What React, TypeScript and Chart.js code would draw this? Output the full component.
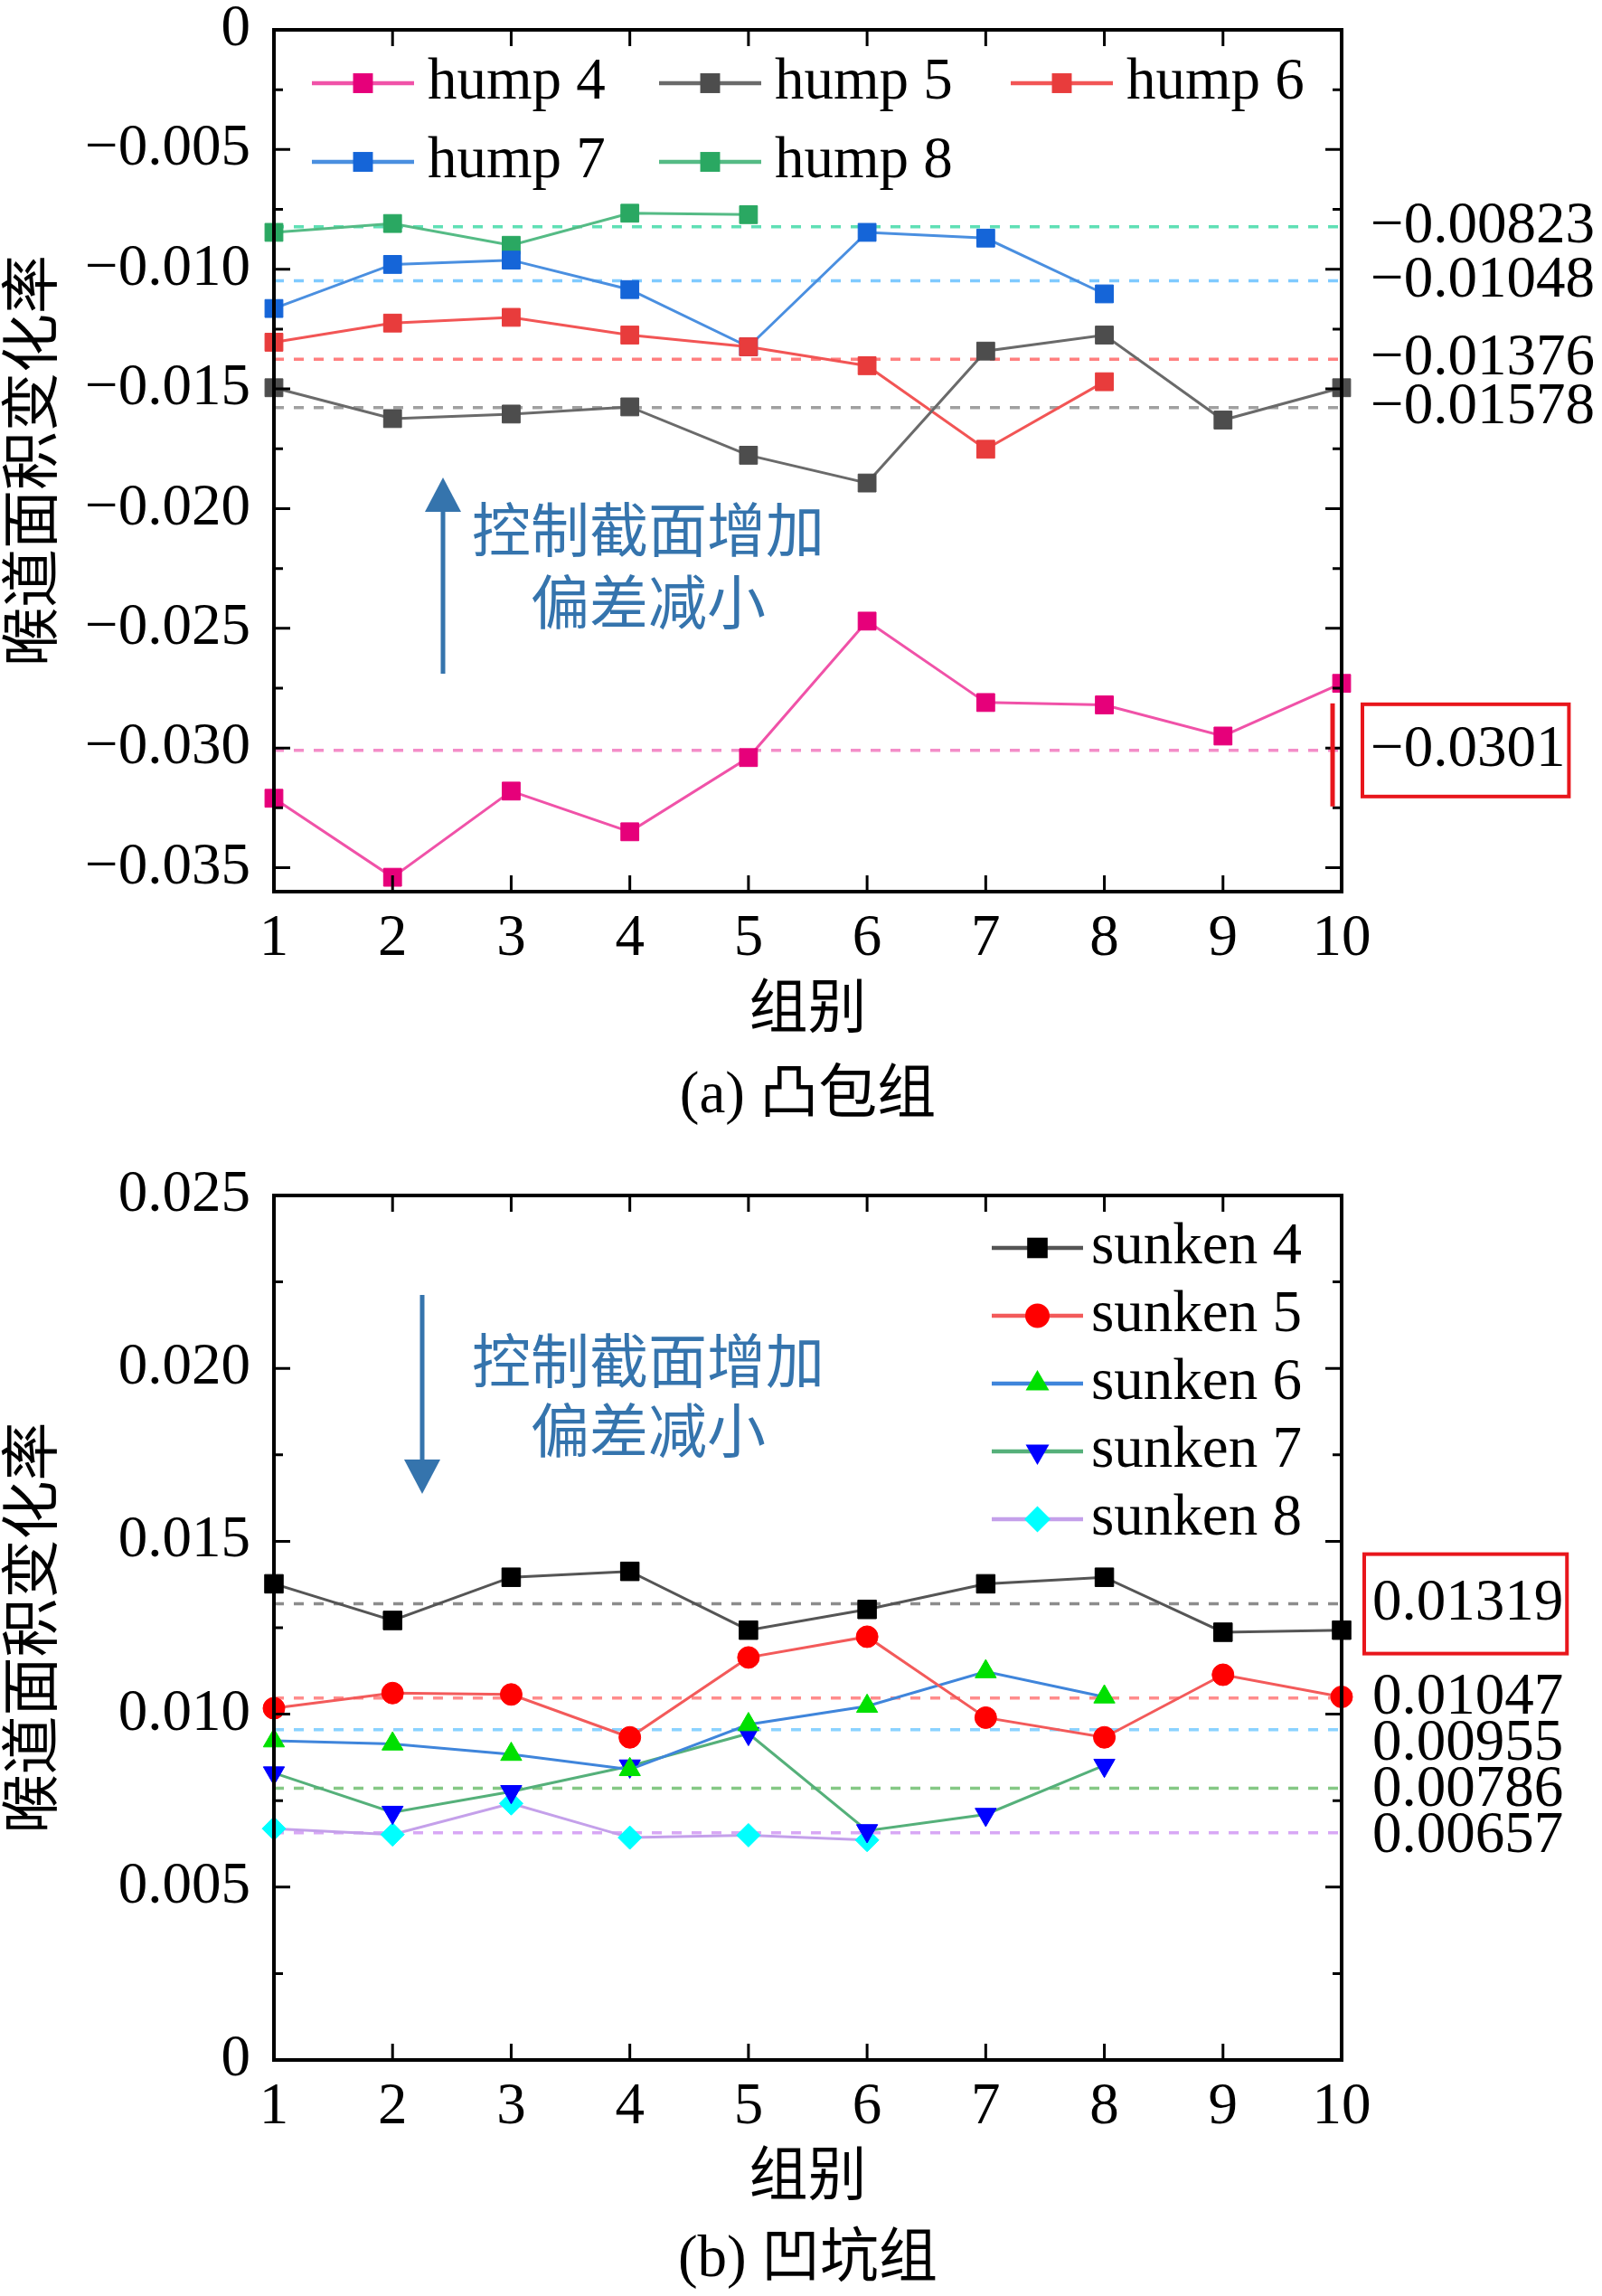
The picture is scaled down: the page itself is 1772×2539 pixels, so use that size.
import React, { useEffect, useRef } from 'react';
import { Chart, registerables } from 'chart.js';

Chart.register(...registerables);

// ---------- data ----------
const groups = ['1', '2', '3', '4', '5', '6', '7', '8', '9', '10'];

const hump4 = [-0.0321, -0.0354, -0.0318, -0.0335, -0.0304, -0.0247, -0.0281, -0.0282, -0.0295, -0.0273];
const hump5 = [-0.01495, -0.01624, -0.01605, -0.01575, -0.01777, -0.01893, -0.01342, -0.01275, -0.0163, -0.01495];
const hump6 = [-0.01305, -0.01225, -0.01201, -0.01275, -0.01324, -0.01403, -0.01752, -0.0147];
const hump7 = [-0.01164, -0.0098, -0.00962, -0.01085, -0.01324, -0.00846, -0.0087, -0.01103];
const hump8 = [-0.00846, -0.00809, -0.009, -0.00766, -0.00772];
const humpNames = ['hump 4', 'hump 5', 'hump 6', 'hump 7', 'hump 8'];
const humpMeans = [-0.0301, -0.01578, -0.01376, -0.01048, -0.00823];
const humpBoxed = -0.0301;

const sunken4 = [0.01377, 0.01271, 0.01396, 0.01413, 0.01243, 0.01303, 0.01377, 0.01396, 0.01237, 0.01243];
const sunken5 = [0.01017, 0.01061, 0.01057, 0.00933, 0.01164, 0.01224, 0.0099, 0.00933, 0.01114, 0.0105];
const sunken6 = [0.00923, 0.00914, 0.00884, 0.0084, 0.0097, 0.01023, 0.01123, 0.0105];
const sunken7 = [0.0083, 0.00716, 0.00776, 0.0085, 0.00944, 0.00663, 0.0071, 0.00852];
const sunken8 = [0.00669, 0.00652, 0.00742, 0.00643, 0.0065, 0.00636];
const sunkenNames = ['sunken 4', 'sunken 5', 'sunken 6', 'sunken 7', 'sunken 8'];
const sunkenMeans = [0.01319, 0.01047, 0.00955, 0.00786, 0.00657];
const sunkenBoxed = 0.01319;

const yTitle = '喉道面积变化率';
const xTitle = '组别';
const noteLines = ['控制截面增加', '偏差减小'];
const captionA = '(a) 凸包组';
const captionB = '(b) 凹坑组';

// ---------- styles ----------
const FAMILY = '"Liberation Serif", "Times New Roman", "Noto Sans CJK SC", serif';
const FS = 65;
const fontObj = { family: FAMILY, size: FS, lineHeight: 1 };
const FONT = `${FS}px ${FAMILY}`;
const NOTE_COLOR = '#3574ad';
const RED = '#e8161c';

const humpStyle = [
  { line: '#f052a8', marker: '#e6007a', mean: '#f38dc8', shape: 'rect', r: 14 },
  { line: '#6a6a6a', marker: '#4d4d4d', mean: '#a0a0a0', shape: 'rect', r: 14 },
  { line: '#f25555', marker: '#e83c3c', mean: '#ff7f7f', shape: 'rect', r: 14 },
  { line: '#4a8fe0', marker: '#1565d8', mean: '#7fcaff', shape: 'rect', r: 14 },
  { line: '#55bb85', marker: '#2aa862', mean: '#5fe0b5', shape: 'rect', r: 14 },
];
const sunkenStyle = [
  { line: '#555555', marker: '#000000', mean: '#8c8c8c', shape: 'rect', r: 14.5 },
  { line: '#f35a5a', marker: '#ff0000', mean: '#ff8c8c', shape: 'circle', r: 12 },
  { line: '#3f85db', marker: '#00e000', mean: '#8ad2ff', shape: 'triangle', r: 13.5 },
  { line: '#55b07a', marker: '#0000ff', mean: '#85c885', shape: 'triangleDown', r: 13.5 },
  { line: '#c4a0ea', marker: '#00ffff', mean: '#d8a8f5', shape: 'rectRot', r: 13 },
];

function drawMarker(ctx: CanvasRenderingContext2D, shape: string, x: number, y: number, r: number, color: string) {
  ctx.fillStyle = color;
  ctx.beginPath();
  if (shape === 'rect') {
    const s = r * Math.SQRT1_2;
    ctx.rect(x - s, y - s, 2 * s, 2 * s);
  } else if (shape === 'circle') {
    ctx.arc(x, y, r, 0, Math.PI * 2);
  } else if (shape === 'triangle' || shape === 'triangleDown') {
    const base = shape === 'triangle' ? -Math.PI / 2 : Math.PI / 2;
    for (let k = 0; k < 3; k++) {
      const a = base + (k * 2 * Math.PI) / 3;
      const px = x + Math.cos(a) * r;
      const py = y + Math.sin(a) * r;
      if (k === 0) ctx.moveTo(px, py);
      else ctx.lineTo(px, py);
    }
    ctx.closePath();
  } else if (shape === 'rectRot') {
    ctx.moveTo(x, y - r);
    ctx.lineTo(x + r, y);
    ctx.lineTo(x, y + r);
    ctx.lineTo(x - r, y);
    ctx.closePath();
  }
  ctx.fill();
}

function fmtTick(v: number) {
  if (Math.abs(v) < 1e-12) return '0';
  return v.toFixed(3).replace('-', '\u2212');
}

const annotPlugin = {
  id: 'annot',
  afterDatasetsDraw(chart: any, _args: any, o: any) {
    const { ctx, chartArea } = chart;
    const xs = chart.scales.x;
    const ys = chart.scales.y;
    const { left, right, top, bottom } = chartArea;
    ctx.save();
    // inward ticks
    ctx.strokeStyle = '#000';
    ctx.lineWidth = 3;
    ctx.beginPath();
    for (let i = 1; i < xs.ticks.length - 1; i++) {
      const px = xs.getPixelForTick(i);
      ctx.moveTo(px, bottom);
      ctx.lineTo(px, bottom - 18);
      ctx.moveTo(px, top);
      ctx.lineTo(px, top + 18);
    }
    const step = o.minorStep;
    const k0 = Math.ceil(ys.min / step - 1e-6);
    const k1 = Math.floor(ys.max / step + 1e-6);
    for (let k = k0; k <= k1; k++) {
      const py = ys.getPixelForValue(k * step);
      const len = k % 2 === 0 ? 18 : 10;
      ctx.moveTo(left, py);
      ctx.lineTo(left + len, py);
      ctx.moveTo(right, py);
      ctx.lineTo(right - len, py);
    }
    ctx.stroke();
    ctx.lineWidth = 4;
    ctx.strokeRect(left, top, right - left, bottom - top);

    // value labels on the right
    ctx.font = FONT;
    ctx.textBaseline = 'middle';
    ctx.textAlign = 'left';
    ctx.fillStyle = '#000';
    const items = o.values
      .map((v: number) => ({ v, py: ys.getPixelForValue(v) }))
      .sort((a: any, b: any) => a.py - b.py);
    for (let i = 1; i < items.length; i++) {
      items[i].py = Math.max(items[i].py, items[i - 1].py + 51);
    }
    items.forEach((it: any) => {
      const txt = String(it.v).replace('-', '\u2212');
      ctx.fillStyle = '#000';
      ctx.fillText(txt, o.labelX, it.py);
      if (it.v === o.boxed) {
        const w = ctx.measureText(txt).width;
        ctx.strokeStyle = RED;
        ctx.lineWidth = 4;
        ctx.strokeRect(o.labelX - 9, it.py - o.boxHalf, w + 13, o.boxHalf * 2);
        if (o.redBar) {
          ctx.lineWidth = 5;
          ctx.beginPath();
          ctx.moveTo(right - 10, it.py - 52);
          ctx.lineTo(right - 10, it.py + 62);
          ctx.stroke();
        }
      }
    });

    // legend
    const lg = o.legend;
    lg.items.forEach((item: any) => {
      const ds = chart.data.datasets[item.i];
      const st = ds._style;
      ctx.strokeStyle = ds.borderColor;
      ctx.lineWidth = 4.5;
      ctx.beginPath();
      ctx.moveTo(item.x, item.y);
      ctx.lineTo(item.x + lg.lineLen, item.y);
      ctx.stroke();
      drawMarker(ctx, st.shape, item.x + lg.lineLen / 2, item.y, st.r + 1.5, st.marker);
      ctx.fillStyle = '#000';
      ctx.font = FONT;
      ctx.textAlign = 'left';
      ctx.textBaseline = 'middle';
      ctx.fillText(ds.label, item.x + lg.textOff, item.y);
    });

    // arrow + note
    const a = o.arrow;
    ctx.strokeStyle = NOTE_COLOR;
    ctx.fillStyle = NOTE_COLOR;
    ctx.lineWidth = 5;
    const dir = a.tip < a.tail ? 1 : -1;
    const baseY = a.tip + dir * 38;
    ctx.beginPath();
    ctx.moveTo(a.x, a.tail);
    ctx.lineTo(a.x, baseY);
    ctx.stroke();
    ctx.beginPath();
    ctx.moveTo(a.x, a.tip);
    ctx.lineTo(a.x - 20, baseY);
    ctx.lineTo(a.x + 20, baseY);
    ctx.closePath();
    ctx.fill();
    ctx.font = FONT;
    ctx.textAlign = 'center';
    ctx.textBaseline = 'middle';
    o.notes.forEach((n: any) => ctx.fillText(n.text, n.x, n.y));
    ctx.restore();
  },
};

function buildDatasets(series: number[][], names: string[], means: number[], styles: any[]) {
  const lines = series.map((d, i) => {
    const st = styles[i];
    return {
      label: names[i],
      data: d,
      _style: st,
      borderColor: st.line,
      borderWidth: 3,
      pointStyle: st.shape === 'triangleDown' ? 'triangle' : st.shape,
      pointRotation: st.shape === 'triangleDown' ? 180 : 0,
      pointRadius: st.r,
      pointBackgroundColor: st.marker,
      pointBorderColor: st.marker,
      pointBorderWidth: 1,
      tension: 0,
      fill: false,
    };
  });
  const meanLines = means.map((m, i) => ({
    label: 'mean ' + names[i],
    data: groups.map(() => m),
    borderColor: styles[i].mean,
    borderWidth: 3.5,
    borderDash: [11, 11],
    pointRadius: 0,
    fill: false,
  }));
  return [...lines, ...meanLines];
}

function buildConfig(p: any) {
  return {
    type: 'line',
    data: { labels: groups, datasets: p.datasets },
    plugins: [annotPlugin],
    options: {
      animation: false,
      responsive: false,
      devicePixelRatio: 1,
      events: [],
      layout: { padding: { left: 0, top: p.top, right: 288, bottom: 0 } },
      plugins: {
        legend: { display: false },
        tooltip: { enabled: false },
        annot: p.annot,
      },
      scales: {
        x: {
          type: 'category',
          offset: false,
          grid: { display: false, drawTicks: false },
          border: { display: false },
          ticks: { font: fontObj, color: '#000', padding: 20, maxRotation: 0, autoSkip: false },
          title: { display: true, text: xTitle, font: fontObj, color: '#000', padding: { top: 0, bottom: p.xTitlePad } },
          afterFit: (s: any) => {
            s.height = p.xHeight;
          },
        },
        y: {
          type: 'linear',
          min: p.min,
          max: p.max,
          grid: { display: false, drawTicks: false },
          border: { display: false },
          ticks: { stepSize: 0.005, includeBounds: false, font: fontObj, color: '#000', padding: 26, callback: (v: any) => fmtTick(Number(v)) },
          title: { display: true, text: yTitle, font: fontObj, color: '#000', padding: { top: 7, bottom: 0 } },
          afterFit: (s: any) => {
            s.width = 303;
            s.paddingTop = 20;
            s.paddingBottom = 20;
          },
        },
      },
    },
  };
}

function ChartCanvas({ top, height, config }: { top: number; height: number; config: () => any }) {
  const ref = useRef<HTMLCanvasElement | null>(null);
  useEffect(() => {
    if (!ref.current) return;
    const chart = new Chart(ref.current, config());
    return () => chart.destroy();
  }, []);
  return (
    <canvas
      ref={ref}
      width={1772}
      height={height}
      style={{ position: 'absolute', left: 0, top, width: 1772, height }}
    />
  );
}

const topConfig = () =>
  buildConfig({
    datasets: buildDatasets([hump4, hump5, hump6, hump7, hump8], humpNames, humpMeans, humpStyle),
    top: 33,
    min: -0.036,
    max: 0,
    xHeight: 174,
    xTitlePad: 9,
    annot: {
      minorStep: 0.0025,
      values: humpMeans,
      boxed: humpBoxed,
      labelX: 1516,
      boxHalf: 51,
      redBar: true,
      legend: {
        lineLen: 113,
        textOff: 128,
        items: [
          { i: 0, x: 345, y: 92 },
          { i: 1, x: 729, y: 92 },
          { i: 2, x: 1118, y: 92 },
          { i: 3, x: 345, y: 179 },
          { i: 4, x: 729, y: 179 },
        ],
      },
      arrow: { x: 490, tail: 745, tip: 528 },
      notes: [
        { text: noteLines[0], x: 717, y: 593 },
        { text: noteLines[1], x: 717, y: 673 },
      ],
    },
  });

const bottomConfig = () =>
  buildConfig({
    datasets: buildDatasets([sunken4, sunken5, sunken6, sunken7, sunken8], sunkenNames, sunkenMeans, sunkenStyle),
    top: 72,
    min: 0,
    max: 0.025,
    xHeight: 182,
    xTitlePad: 18,
    annot: {
      minorStep: 0.0025,
      values: sunkenMeans,
      boxed: sunkenBoxed,
      labelX: 1518,
      boxHalf: 55,
      redBar: false,
      legend: {
        lineLen: 101,
        textOff: 110,
        items: [
          { i: 0, x: 1097, y: 130 },
          { i: 1, x: 1097, y: 205 },
          { i: 2, x: 1097, y: 280 },
          { i: 3, x: 1097, y: 355 },
          { i: 4, x: 1097, y: 430 },
        ],
      },
      arrow: { x: 467, tail: 182, tip: 402 },
      notes: [
        { text: noteLines[0], x: 717, y: 262 },
        { text: noteLines[1], x: 717, y: 339 },
      ],
    },
  });

const captionStyle = (top: number): React.CSSProperties => ({
  position: 'absolute',
  left: 303,
  width: 1181,
  top,
  height: 80,
  lineHeight: '80px',
  textAlign: 'center',
  fontFamily: FAMILY,
  fontSize: FS,
  color: '#000',
  whiteSpace: 'nowrap',
});

export default function App() {
  return (
    <div style={{ position: 'absolute', left: 0, top: 0, width: 1772, height: 2539, background: '#fff', overflow: 'hidden' }}>
      <ChartCanvas top={0} height={1160} config={topConfig} />
      <div style={captionStyle(1168)}>{captionA}</div>
      <ChartCanvas top={1250} height={1210} config={bottomConfig} />
      <div style={captionStyle(2455)}>{captionB}</div>
    </div>
  );
}
